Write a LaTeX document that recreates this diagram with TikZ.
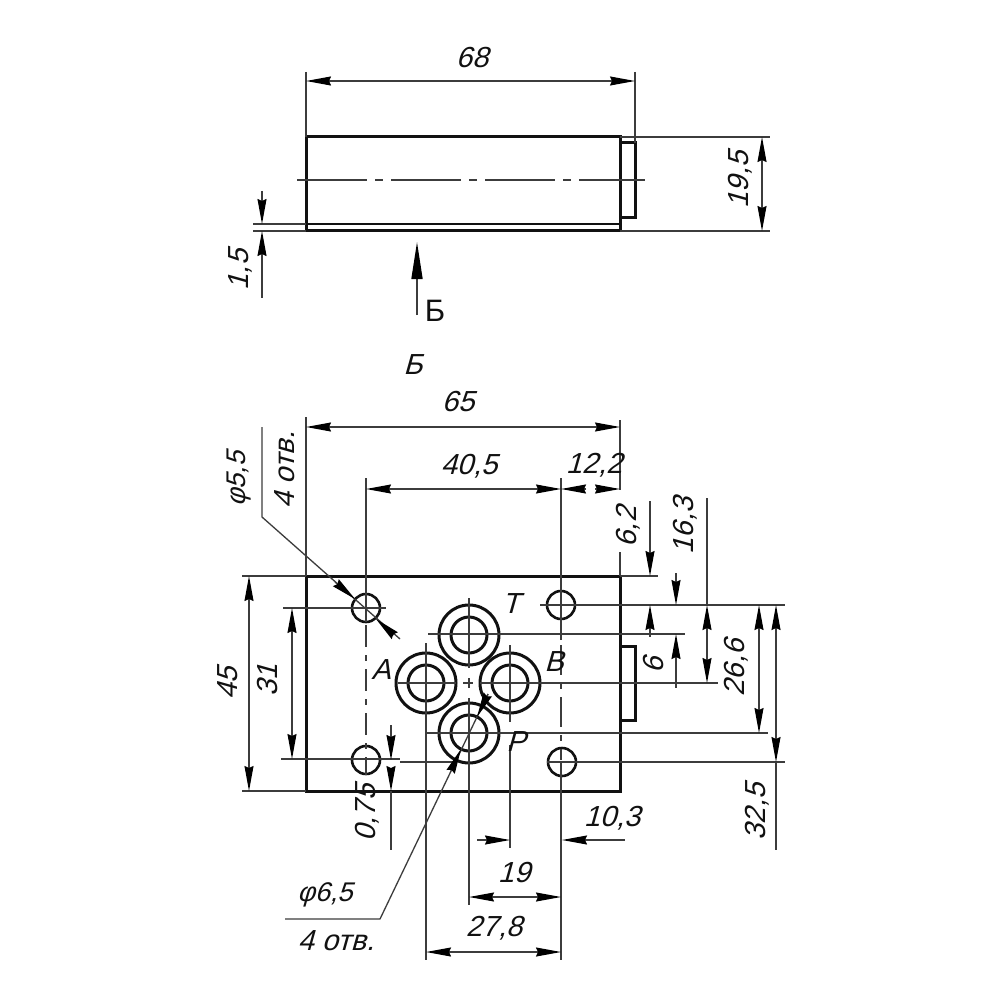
\documentclass[tikz,border=0pt]{standalone}
\usepackage{fontspec}
\setmainfont{Liberation Sans}
\newfontfamily\gostfont[FakeSlant=0.28]{Liberation Sans}
\usetikzlibrary{arrows.meta}
\definecolor{ink}{HTML}{111111}
\definecolor{fine}{HTML}{3c3c3c}
\tikzset{
  x=1pt,y=-1pt,
  thickline/.style={draw=ink,line width=3pt},
  midline/.style={draw=ink,line width=3pt},
  circline/.style={draw=ink,line width=3pt},
  fineline/.style={draw=fine,line width=1.3pt},
  axisline/.style={draw=fine,line width=1.3pt,dash pattern=on 70pt off 8pt on 8pt off 8pt},
  tipped/.style={draw=fine,line width=1.3pt,-{Stealth[length=25pt,width=9pt,inset=2pt,color=black]}},
  lbl/.style={font=\fontsize{29}{32}\selectfont\gostfont,text=ink,inner sep=0pt},
  vlbl/.style={lbl,rotate=90},
  notelbl/.style={font=\fontsize{27}{30}\selectfont\gostfont,text=ink,inner sep=0pt},
  holelbl/.style={font=\fontsize{29}{32}\selectfont\gostfont,text=ink,inner sep=0pt},
}
\newcommand{\arw}[4]{\draw[tipped] (#3,#4) -- (#1,#2);}
\begin{document}
\begin{tikzpicture}
\useasboundingbox[fill=white] (0,0) rectangle (1000,1000);
% top view
\draw[thickline] (306,137) rectangle (620,231);
\draw[midline,line width=2.4pt] (306,224) -- (620,224);
\draw[midline] (620,143) -- (635,143) -- (635,218) -- (620,218);
\draw[axisline] (297,180) -- (645,180);
\draw[fineline] (306,72) -- (306,137);
\draw[fineline] (635,72) -- (635,143);
\draw[fineline] (331,81) -- (610,81);
\arw{306}{81}{331}{81}
\arw{635}{81}{610}{81}
\draw[fineline] (620,137) -- (770,137);
\draw[fineline] (620,231) -- (770,231);
\draw[fineline] (762,162) -- (762,206);
\arw{762}{137}{762}{162}
\arw{762}{231}{762}{206}
\draw[fineline] (253,224) -- (306,224);
\draw[fineline] (253,231) -- (306,231);
\draw[fineline] (262,191) -- (262,199);
\draw[fineline] (262,256) -- (262,298);
\arw{262}{224}{262}{199}
\arw{262}{231}{262}{256}
\draw[draw=fine,line width=1.6pt,-{Stealth[length=37pt,width=11pt,inset=0pt,color=black]}] (417,315) -- (417,242);
\node[inner sep=0pt,text=ink,font=\fontsize{31}{34}\selectfont] (sectop) at (435,311) {Б};
\node[lbl] (t68) at (472,58) {68};
\node[vlbl] (t195) at (740,180) {19,5};
\node[vlbl] (t15) at (240,270) {1,5};
% bottom view
\node[lbl] (secb) at (413,365) {Б};
\draw[thickline] (306,576) rectangle (620,791);
\draw[midline] (620,646) -- (635,646) -- (635,720) -- (620,720);
\foreach \cx/\cy in {366/608,561/605,366/760,562/762}{
  \draw[midline,line width=2.6pt] (\cx,\cy) circle[radius=14];
}
\foreach \cx/\cy in {469/635,426/683,510/683,469/733}{
  \draw[circline] (\cx,\cy) circle[radius=30];
  \draw[circline] (\cx,\cy) circle[radius=18];
}
% horizontal extension and centre lines
\draw[fineline] (242,576) -- (306,576);
\draw[fineline] (242,791) -- (306,791);
\draw[fineline] (620,576) -- (658,576);
\draw[fineline] (283,608) -- (386,608);
\draw[fineline] (281,759) -- (400,759);
\draw[fineline] (400,762) -- (455,762);
\draw[fineline] (540,605) -- (785,605);
\draw[fineline] (547,762) -- (785,762);
\draw[fineline] (428,634) -- (685,634);
\draw[fineline] (425,733) -- (768,733);
\draw[fineline] (398,683) -- (456,683);
\draw[fineline] (463,683) -- (473,683);
\draw[fineline] (480,683) -- (718,683);
% vertical extension and centre lines
\draw[fineline] (306,417) -- (306,576);
\draw[fineline] (620,420) -- (620,490);
\draw[fineline] (620,552) -- (620,576);
\draw[fineline] (366,478) -- (366,622);
\draw[axisline,dash pattern=on 22pt off 8pt on 6pt off 8pt] (366,625) -- (366,775);
\draw[fineline] (561,478) -- (561,640);
\draw[axisline,dash pattern=on 30pt off 8pt on 6pt off 8pt] (561,645) -- (561,760);
\draw[fineline] (561,762) -- (561,960);
\draw[fineline] (426,643) -- (426,960);
\draw[fineline] (469,598) -- (469,668);
\draw[fineline] (469,678) -- (469,688);
\draw[fineline] (469,698) -- (469,905);
\draw[fineline] (510,645) -- (510,722);
\draw[fineline] (510,745) -- (510,848);
% dimensions
\draw[fineline] (331,427) -- (595,427);
\arw{306}{427}{331}{427}
\arw{620}{427}{595}{427}
\draw[fineline] (391,489) -- (536,489);
\arw{366}{489}{391}{489}
\arw{561}{489}{536}{489}
\arw{561}{489}{586}{489}
\arw{620}{489}{595}{489}
\draw[fineline] (650,501) -- (650,552);
\arw{650}{576}{650}{552}
\arw{650}{605}{650}{630}
\draw[fineline] (650,630) -- (650,637);
\draw[fineline] (676,573) -- (676,581);
\arw{676}{605}{676}{581}
\arw{676}{634}{676}{658}
\draw[fineline] (676,658) -- (676,688);
\draw[fineline] (707,498) -- (707,605);
\arw{707}{605}{707}{630}
\arw{707}{683}{707}{658}
\draw[fineline] (707,630) -- (707,658);
\draw[fineline] (759,630) -- (759,708);
\arw{759}{605}{759}{630}
\arw{759}{733}{759}{708}
\draw[fineline] (776,630) -- (776,737);
\arw{776}{605}{776}{630}
\arw{776}{762}{776}{737}
\draw[fineline] (776,762) -- (776,850);
\draw[fineline] (249,601) -- (249,766);
\arw{249}{576}{249}{601}
\arw{249}{791}{249}{766}
\draw[fineline] (292,633) -- (292,734);
\arw{292}{608}{292}{633}
\arw{292}{759}{292}{734}
\draw[fineline] (391,725) -- (391,735);
\arw{391}{760}{391}{735}
\arw{391}{791}{391}{768}
\draw[fineline] (391,791) -- (391,850);
\draw[fineline] (477,840) -- (485,840);
\arw{510}{840}{485}{840}
\arw{562}{840}{587}{840}
\draw[fineline] (587,840) -- (625,840);
\draw[fineline] (494,897) -- (536,897);
\arw{469}{897}{494}{897}
\arw{561}{897}{536}{897}
\draw[fineline] (451,952) -- (536,952);
\arw{426}{952}{451}{952}
\arw{561}{952}{536}{952}
% leaders
\draw[fineline] (262,427) -- (262,517) -- (400,639);
\arw{355}{599}{335}{582}
\arw{376}{619}{394}{635}
\draw[fineline] (285,919) -- (380,919) -- (488,694);
\arw{461}{749}{451}{771}
\arw{477}{717}{488}{694}
% texts
\node[lbl] (t65) at (458,402) {65};
\node[lbl] (t405) at (469,466) {40,5};
\node[lbl] (t122) at (594,465) {12,2};
\node[vlbl] (t62) at (628,527) {6,2};
\node[vlbl] (t163) at (685,526) {16,3};
\node[vlbl] (t6) at (654,665) {6};
\node[vlbl] (t266) at (736,668) {26,6};
\node[vlbl] (t325) at (757,812) {32,5};
\node[vlbl] (t45) at (228,683) {45};
\node[vlbl] (t31) at (268,680) {31};
\node[vlbl] (t075) at (367,813) {0,75};
\node[lbl] (t103) at (612,818) {10,3};
\node[lbl] (t19) at (514,873) {19};
\node[lbl] (t278) at (494,928) {27,8};
\node[lbl] (lt) at (511,604) {T};
\node[lbl] (la) at (381,670) {A};
\node[lbl] (lb) at (554,662) {B};
\node[lbl] (lp) at (516,742) {P};
\node[notelbl,rotate=90] (d55) at (239,479) {φ5,5};
\node[holelbl,rotate=90] (h55) at (285,470) {4 отв.};
\node[notelbl] (d65) at (325,895) {φ6,5};
\node[holelbl] (h65) at (336,941) {4 отв.};
\end{tikzpicture}
\end{document}
